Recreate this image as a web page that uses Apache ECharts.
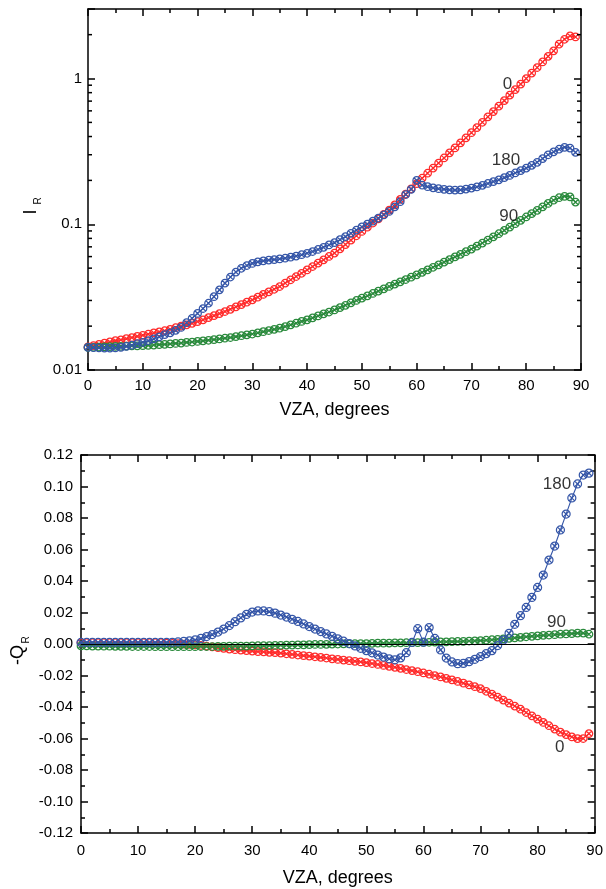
<!DOCTYPE html>
<html>
<head>
<meta charset="utf-8">
<script src="https://cdn.jsdelivr.net/npm/echarts@6/dist/echarts.min.js"></script>
<style>
  html, body { margin: 0; padding: 0; background: #fff; }
  #chart { width: 606px; height: 889px; }
</style>
</head>
<body>
<div id="chart"></div>
<script>
// View zenith angle, degrees (one sample per degree)
const vza = Array.from({ length: 90 }, (_, i) => i);

// Reflected intensity I_R for relative azimuths 0, 90 and 180 degrees
const iR0 = [
  0.0144, 0.0147, 0.0150, 0.0153, 0.0156, 0.0159, 0.0161, 0.0164, 0.0167, 0.0170,
  0.0173, 0.0176, 0.0180, 0.0183, 0.0186, 0.0190, 0.0195, 0.0200, 0.0204, 0.0209,
  0.0215, 0.0221, 0.0229, 0.0236, 0.0244, 0.0252, 0.0261, 0.0271, 0.0281, 0.0292,
  0.0303, 0.0316, 0.0330, 0.0344, 0.0358, 0.0374, 0.0395, 0.0416, 0.0438, 0.0461,
  0.0486, 0.0513, 0.0541, 0.0570, 0.0601, 0.0634, 0.0678, 0.0726, 0.0778, 0.0834,
  0.0893, 0.0955, 0.102, 0.109, 0.117, 0.125, 0.136, 0.148, 0.161, 0.175,
  0.190, 0.207, 0.224, 0.243, 0.263, 0.285, 0.309, 0.334, 0.362, 0.392,
  0.425, 0.461, 0.501, 0.546, 0.593, 0.646, 0.705, 0.769, 0.840, 0.916,
  1.00, 1.09, 1.19, 1.30, 1.42, 1.55, 1.72, 1.86, 1.96, 1.93
];
const iR90 = [
  0.01429, 0.01432, 0.01435, 0.01442, 0.01445, 0.01452, 0.01455, 0.01459, 0.01462, 0.01466,
  0.01469, 0.01476, 0.01483, 0.01493, 0.01500, 0.01510, 0.01521, 0.01531, 0.01545, 0.01556,
  0.01570, 0.01585, 0.01600, 0.01618, 0.01633, 0.01652, 0.01671, 0.01694, 0.01718, 0.01742,
  0.01766, 0.01799, 0.01832, 0.01866, 0.01901, 0.01936, 0.01986, 0.02042, 0.02094, 0.02153,
  0.02208, 0.02280, 0.02350, 0.02427, 0.02500, 0.02582, 0.02679, 0.02780, 0.02891, 0.02999,
  0.03112, 0.03228, 0.03350, 0.03475, 0.03606, 0.03741, 0.03882, 0.04027, 0.04178, 0.04335,
  0.04498, 0.04677, 0.04864, 0.05070, 0.05272, 0.05495, 0.05728, 0.05970, 0.06223, 0.06486,
  0.06761, 0.07079, 0.07430, 0.07798, 0.08204, 0.08610, 0.09078, 0.09572, 0.1009, 0.1064,
  0.1122, 0.1183, 0.1247, 0.1318, 0.1390, 0.1462, 0.1521, 0.1556, 0.1542, 0.1419
];
const iR180 = [
  0.01429, 0.01422, 0.01416, 0.01413, 0.01413, 0.01416, 0.01429, 0.01452, 0.01479, 0.01514,
  0.01549, 0.01589, 0.01637, 0.01690, 0.01750, 0.01799, 0.01871, 0.01959, 0.02113, 0.02265,
  0.02443, 0.02642, 0.02871, 0.03184, 0.03548, 0.03945, 0.04345, 0.04699, 0.04989, 0.05212,
  0.05383, 0.05521, 0.05610, 0.05675, 0.05728, 0.05781, 0.05848, 0.05943, 0.06053, 0.06180,
  0.06324, 0.06501, 0.06714, 0.06950, 0.07211, 0.07482, 0.07834, 0.08222, 0.08670, 0.09120,
  0.09594, 0.1002, 0.1050, 0.1102, 0.1159, 0.1225, 0.1318, 0.1429, 0.1600, 0.1738,
  0.2000, 0.1854, 0.1811, 0.1778, 0.1754, 0.1738, 0.1722, 0.1714, 0.1722, 0.1742,
  0.1770, 0.1803, 0.1849, 0.1905, 0.1963, 0.2018, 0.2089, 0.2163, 0.2249, 0.2333,
  0.2427, 0.2535, 0.2661, 0.2825, 0.2999, 0.3141, 0.3273, 0.3373, 0.3334, 0.3112
];

// Polarized component -Q_R for the same azimuths
const qR0 = [
  0.0008, 0.0008, 0.0008, 0.0008, 0.0008, 0.0008, 0.0008, 0.0008, 0.0008, 0.0008,
  0.0008, 0.0008, 0.0008, 0.0008, 0.0008, 0.0006, 0.0004, 0.0002, 0.0000, -0.0002,
  -0.0005, -0.0009, -0.0013, -0.0018, -0.0023, -0.0028, -0.0032, -0.0036, -0.0039, -0.0042,
  -0.0045, -0.0048, -0.0050, -0.0053, -0.0055, -0.0058, -0.0062, -0.0066, -0.0070, -0.0074,
  -0.0077, -0.0081, -0.0085, -0.0089, -0.0094, -0.0098, -0.0102, -0.0106, -0.0110, -0.0114,
  -0.0118, -0.0124, -0.0130, -0.0136, -0.0142, -0.0148, -0.0155, -0.0162, -0.0169, -0.0176,
  -0.0184, -0.0192, -0.0200, -0.0209, -0.0218, -0.0228, -0.0238, -0.0249, -0.0260, -0.0271,
  -0.0283, -0.0300, -0.0318, -0.0337, -0.0356, -0.0375, -0.0394, -0.0414, -0.0435, -0.0456,
  -0.0477, -0.0498, -0.0519, -0.0540, -0.0560, -0.0575, -0.0590, -0.0601, -0.0600, -0.0569
];
const qR90 = [
  -0.0012, -0.0012, -0.0013, -0.0013, -0.0014, -0.0014, -0.0015, -0.0015, -0.0015, -0.0016,
  -0.0016, -0.0016, -0.0016, -0.0017, -0.0017, -0.0017, -0.0017, -0.0017, -0.0017, -0.0017,
  -0.0017, -0.0016, -0.0016, -0.0016, -0.0015, -0.0015, -0.0014, -0.0014, -0.0013, -0.0013,
  -0.0012, -0.0011, -0.0011, -0.0010, -0.0009, -0.0008, -0.0007, -0.0007, -0.0006, -0.0005,
  -0.0004, -0.0003, -0.0003, -0.0002, -0.0001, 0.0000, 0.0001, 0.0001, 0.0002, 0.0003,
  0.0003, 0.0004, 0.0005, 0.0005, 0.0006, 0.0007, 0.0007, 0.0008, 0.0009, 0.0009,
  0.0010, 0.0011, 0.0012, 0.0013, 0.0014, 0.0015, 0.0016, 0.0017, 0.0019, 0.0020,
  0.0022, 0.0024, 0.0027, 0.0030, 0.0033, 0.0036, 0.0039, 0.0042, 0.0046, 0.0049,
  0.0052, 0.0055, 0.0057, 0.0059, 0.0062, 0.0064, 0.0066, 0.0069, 0.0069, 0.0062
];
const qR180 = [
  0.0010, 0.0010, 0.0010, 0.0010, 0.0010, 0.0010, 0.0010, 0.0010, 0.0010, 0.0010,
  0.0010, 0.0010, 0.0010, 0.0010, 0.0010, 0.0010, 0.0011, 0.0013, 0.0016, 0.0020,
  0.0026, 0.0035, 0.0047, 0.0060, 0.0076, 0.0095, 0.0117, 0.0142, 0.0166, 0.0188,
  0.0203, 0.0210, 0.0210, 0.0205, 0.0196, 0.0184, 0.0171, 0.0157, 0.0143, 0.0127,
  0.0111, 0.0095, 0.0079, 0.0064, 0.0049, 0.0033, 0.0018, 0.0003, -0.0012, -0.0027,
  -0.0042, -0.0056, -0.0070, -0.0083, -0.0094, -0.0100, -0.0088, -0.0055, 0.0010, 0.0097,
  0.0012, 0.0104, 0.0035, -0.0038, -0.0089, -0.0114, -0.0125, -0.0123, -0.0112, -0.0097,
  -0.0080, -0.0061, -0.0042, -0.0010, 0.0025, 0.0068, 0.0125, 0.0180, 0.0232, 0.0296,
  0.0359, 0.0438, 0.0533, 0.0622, 0.0724, 0.0825, 0.0927, 0.1016, 0.1073, 0.1085
];

// Curve labels (azimuth), anchored in data units
const curveNames = ['0', '90', '180'];
const topLabelPos = [[76.6, 0.917], [76.8, 0.1135], [76.3, 0.273]];
const botLabelPos = [[83.9, -0.0657], [83.3, 0.0138], [83.4, 0.1011]];

// Axis ranges
const iRange = [0.01, 3];
const qRange = [-0.12, 0.12];

const COLORS = { '0': '#ff2b2b', '90': '#2a8a3c', '180': '#3556a8' };
const FONT = 'Liberation Sans, Arial, Helvetica, sans-serif';
const INK = '#000';

// circle with an inscribed cross
const MARKER = 'path://M0,10 A10,10 0 1,1 20,10 A10,10 0 1,1 0,10 Z M2.93,2.93 L17.07,17.07 M17.07,2.93 L2.93,17.07';

// log-axis minor ticks 2..9 x 10^k inside the range
const logMinor = [];
for (let k = -2; k <= 0; k++) {
  for (let m = 2; m <= 9; m++) {
    const v = m * Math.pow(10, k);
    if (v > iRange[0] && v < iRange[1]) logMinor.push(v);
  }
}

function pairs(ys) { return vza.map((x, i) => [x, ys[i]]); }

function curve(name, ys, gi, size) {
  const c = COLORS[name];
  return {
    type: 'line', name: name + '_' + gi,
    xAxisIndex: gi * 2, yAxisIndex: gi * 2,
    data: pairs(ys),
    symbol: MARKER, symbolSize: size, symbolKeepAspect: true,
    showAllSymbol: true,
    lineStyle: { color: c, width: 1.1 },
    itemStyle: { color: 'rgba(255,255,255,0)', borderColor: c, borderWidth: 1.25 },
    emphasis: { disabled: true },
    silent: true, animation: false, clip: false, z: 3
  };
}

function tagSeries(labels, pos, gi) {
  return {
    type: 'scatter', xAxisIndex: gi * 2, yAxisIndex: gi * 2,
    data: pos.map((p, i) => ({ value: p, label: { formatter: labels[i] } })),
    symbolSize: 0, silent: true, animation: false, z: 5,
    label: { show: true, position: 'inside', color: INK, fontSize: 17, fontFamily: FONT }
  };
}

const axisLine = { show: true, onZero: false, lineStyle: { color: INK, width: 1.5 } };
const majorTick = { inside: true, length: 7, lineStyle: { color: INK, width: 1.5 } };
const minorTick = { show: true, splitNumber: 2, length: 4, lineStyle: { color: INK, width: 1.5 } };

function xAxes(gi, gap) {
  const base = {
    type: 'value', gridIndex: gi, min: 0, max: 90, interval: 10,
    axisLine, splitLine: { show: false }, axisTick: majorTick, minorTick
  };
  return [
    Object.assign({}, base, {
      position: 'bottom',
      axisLabel: { show: true, color: INK, fontSize: 15, fontFamily: FONT, margin: gi ? 10 : 8 },
      name: 'VZA, degrees', nameLocation: 'middle', nameGap: gap,
      nameTextStyle: { color: INK, fontSize: 18, fontFamily: FONT }
    }),
    Object.assign({}, base, { position: 'top', axisLabel: { show: false } })
  ];
}

const option = {
  animation: false,
  backgroundColor: '#fff',
  grid: [
    { left: 88, right: 25, top: 9, height: 361 },
    { left: 81, right: 8, top: 455, height: 378 }
  ],
  xAxis: [...xAxes(0, 31), ...xAxes(1, 36)],
  yAxis: [
    {
      type: 'log', logBase: 10, gridIndex: 0, min: iRange[0], max: iRange[1], position: 'left',
      axisLine, splitLine: { show: false }, axisTick: majorTick,
      axisLabel: {
        color: INK, fontSize: 15, fontFamily: FONT, margin: 6,
        formatter: v => {
          const l = Math.log10(v);
          return Math.abs(l - Math.round(l)) < 1e-6 ? String(+v.toPrecision(3)) : '';
        }
      }
    },
    {
      type: 'log', logBase: 10, gridIndex: 0, min: iRange[0], max: iRange[1], position: 'right',
      axisLine, splitLine: { show: false }, axisTick: majorTick,
      axisLabel: { show: false }
    },
    {
      type: 'value', gridIndex: 1, min: qRange[0], max: qRange[1], interval: 0.02, position: 'left',
      axisLine, splitLine: { show: false }, axisTick: majorTick, minorTick,
      axisLabel: { color: INK, fontSize: 15, fontFamily: FONT, margin: 8, formatter: v => v.toFixed(2) }
    },
    {
      type: 'value', gridIndex: 1, min: qRange[0], max: qRange[1], interval: 0.02, position: 'right',
      axisLine, splitLine: { show: false }, axisTick: majorTick, minorTick,
      axisLabel: { show: false }
    }
  ],
  series: [
    // minor ticks of the logarithmic axis, both sides
    {
      type: 'custom', xAxisIndex: 0, yAxisIndex: 0, silent: true, animation: false, clip: false, z: 10,
      data: logMinor.map(v => [0, v]),
      renderItem: (params, api) => {
        const v = api.value(1);
        const l = api.coord([0, v]);
        const r = api.coord([90, v]);
        const st = { stroke: INK, lineWidth: 1.5 };
        return {
          type: 'group', children: [
            { type: 'line', shape: { x1: l[0], y1: l[1], x2: l[0] + 4, y2: l[1] }, style: st },
            { type: 'line', shape: { x1: r[0] - 4, y1: r[1], x2: r[0], y2: r[1] }, style: st }
          ]
        };
      }
    },
    curve('0', iR0, 0, 7.5),
    curve('90', iR90, 0, 7.5),
    curve('180', iR180, 0, 7.5),
    tagSeries(curveNames, topLabelPos, 0),
    Object.assign(curve('0', qR0, 1, 7.5), {
      markLine: {
        silent: true, symbol: 'none', animation: false,
        label: { show: false },
        lineStyle: { color: INK, width: 1, type: 'solid' },
        data: [{ yAxis: 0 }]
      }
    }),
    curve('90', qR90, 1, 7.5),
    curve('180', qR180, 1, 8),
    tagSeries(curveNames, botLabelPos, 1)
  ],
  graphic: [
    { type: 'text', x: 31, y: 212, rotation: Math.PI / 2,
      style: { text: 'I', font: '18px ' + FONT, fill: INK, align: 'center', verticalAlign: 'middle' } },
    { type: 'text', x: 38, y: 201, rotation: Math.PI / 2,
      style: { text: 'R', font: '10px ' + FONT, fill: INK, align: 'center', verticalAlign: 'middle' } },
    { type: 'text', x: 18, y: 655, rotation: Math.PI / 2,
      style: { text: '-Q', font: '18px ' + FONT, fill: INK, align: 'center', verticalAlign: 'middle' } },
    { type: 'text', x: 26, y: 640, rotation: Math.PI / 2,
      style: { text: 'R', font: '10px ' + FONT, fill: INK, align: 'center', verticalAlign: 'middle' } }
  ]
};

const chart = echarts.init(document.getElementById('chart'), null, { renderer: 'canvas' });
chart.setOption(option);
</script>
</body>
</html>
